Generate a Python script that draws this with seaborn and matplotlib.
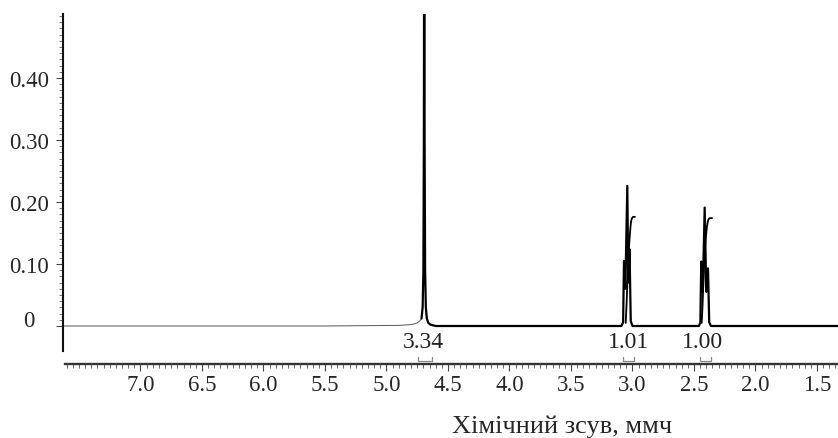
import numpy as np
import pandas as pd
import seaborn as sns
import matplotlib
matplotlib.use("Agg")
import matplotlib.pyplot as plt
from matplotlib.ticker import MultipleLocator, FixedLocator
from matplotlib.transforms import ScaledTranslation

# ---------------- data ----------------
# thin baseline left of the water peak (ppm, intensity)
left_ppm = [7.630, 6.50, 5.50, 4.90, 4.82, 4.78, 4.75, 4.73, 4.715]
left_int = [0.000, 0.000, 0.000, 0.001, 0.002, 0.003, 0.005, 0.008, 0.012]

# main spectrum: water peak + two multiplets + baseline
main_ppm = [4.715, 4.706, 4.700, 4.696, 4.693, 4.690, 4.686, 4.680, 4.672, 4.660, 4.640, 4.600,
            3.090, 3.076, 3.069, 3.058, 3.042, 3.034, 3.024, 3.014, 3.000,
            2.460, 2.448, 2.441, 2.428, 2.413, 2.400, 2.386, 2.376, 2.362,
            1.329]
main_int = [0.012, 0.030, 0.090, 0.300, 0.800, 0.300, 0.090, 0.030, 0.012, 0.005, 0.002, 0.000,
            0.000, 0.006, 0.105, 0.060, 0.226, 0.070, 0.124, 0.008, 0.000,
            0.000, 0.006, 0.104, 0.055, 0.191, 0.055, 0.093, 0.006, 0.000,
            0.000]

# integral curves
int1_ppm = [3.055, 3.048, 3.040, 3.032, 3.024, 3.017, 3.012, 3.006, 2.996, 2.980]
int1_val = [0.005, 0.035, 0.080, 0.115, 0.140, 0.158, 0.168, 0.173, 0.176, 0.176]
int2_ppm = [2.437, 2.430, 2.422, 2.414, 2.405, 2.396, 2.388, 2.382, 2.372, 2.353]
int2_val = [0.005, 0.035, 0.080, 0.115, 0.140, 0.158, 0.168, 0.172, 0.174, 0.174]

# integral labels and brackets
integ_labels = ["3.34", "1.01", "1.00"]
integ_label_ppm = [4.703, 3.028, 2.427]
integ_lo = [4.744, 3.080, 2.451]
integ_hi = [4.630, 2.988, 2.362]

# axis ticks
x_major = [7.0, 6.5, 6.0, 5.5, 5.0, 4.5, 4.0, 3.5, 3.0, 2.5, 2.0, 1.5]
x_labels = ["7.0", "6.5", "6.0", "5.5", "5.0", "4.5", "4.0", "3.5", "3.0", "2.5", "2.0", "1.5"]
y_major = [0.0, 0.1, 0.2, 0.3, 0.4]
y_labels = ["0", "0.10", "0.20", "0.30", "0.40"]
x_title = "Хімічний зсув, ммч"

# ---------------- figure ----------------
sns.set_style("white")
plt.rcParams["font.family"] = ["Liberation Serif", "DejaVu Serif"]

W, H = 838, 439
fig = plt.figure(figsize=(W / 100, H / 100), dpi=100)
ax = fig.add_axes([63 / W, 74 / H, 775 / W, 350 / H])

sns.lineplot(x=left_ppm, y=left_int, ax=ax, color="#555555", lw=0.7)
sns.lineplot(x=main_ppm, y=main_int, ax=ax, color="black", lw=1.6)
sns.lineplot(x=int1_ppm, y=int1_val, ax=ax, color="black", lw=1.3)
sns.lineplot(x=int2_ppm, y=int2_val, ax=ax, color="black", lw=1.3)

ax.set_xlim(7.630, 1.329)
ax.set_ylim(-0.0613, 0.5032)

# integral labels + brackets
br_top, br_bot = -0.0495, -0.056
for lab, xp, lo, hi in zip(integ_labels, integ_label_ppm, integ_lo, integ_hi):
    ax.text(xp, -0.025, lab, ha="center", va="center", fontsize=17, color="#222222")
    ax.plot([lo, lo, hi, hi], [br_top, br_bot, br_bot, br_top], color="#888888", lw=0.9)

# spines
for s in ["top", "right"]:
    ax.spines[s].set_visible(False)
ax.spines["left"].set_bounds(-0.04, 0.503)
ax.spines["left"].set_linewidth(1.5)
ax.spines["left"].set_color("#111111")
ax.spines["bottom"].set_bounds(7.615, 1.329)
ax.spines["bottom"].set_linewidth(1.7)
ax.spines["bottom"].set_color("#333333")

# ticks
ax.set_xticks(x_major, x_labels)
ax.xaxis.set_minor_locator(MultipleLocator(0.05))
ax.set_yticks(y_major, y_labels)
ax.yaxis.set_minor_locator(FixedLocator(np.round(np.arange(0, 0.5001, 0.01), 2)))

ax.tick_params(axis="x", which="major", bottom=True, direction="out", length=5, width=0.8,
               color="#444444", pad=2.5, labelsize=16.5)
ax.tick_params(axis="x", which="minor", bottom=True, direction="out", length=3, width=0.7,
               color="#666666")
ax.tick_params(axis="y", which="major", left=True, direction="out", length=5, width=0.8,
               color="#444444", pad=19.5, labelsize=16.5)
ax.tick_params(axis="y", which="minor", left=True, direction="out", length=3, width=0.7,
               color="#777777")

for lab in ax.get_yticklabels():
    lab.set_ha("center")
    if lab.get_text() == "0":
        lab.set_transform(lab.get_transform() + ScaledTranslation(0, 8 / 100, fig.dpi_scale_trans))

ax.set_xlabel(x_title, fontsize=19)
ax.xaxis.set_label_coords((561.7 - 63) / 775, -0.143)

fig.savefig("out.png", dpi=100)
